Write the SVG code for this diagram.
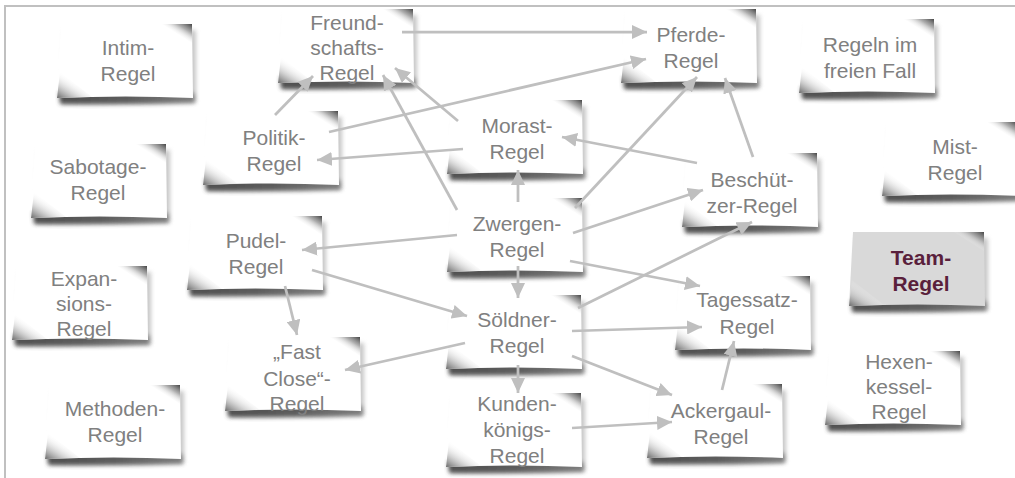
<svg xmlns="http://www.w3.org/2000/svg" xmlns:xlink="http://www.w3.org/1999/xlink" width="1015" height="478" viewBox="0 0 1015 478">
  <style>
    .frame { fill: none; stroke: #c0c0c0; stroke-width: 2; }
    .label { font-family: "Liberation Sans", Arial, sans-serif; font-size: 21px; fill: #808080; text-anchor: middle; }
    .label-strong { font-family: "Liberation Sans", Arial, sans-serif; font-size: 21px; font-weight: bold; fill: #5a1f3c; text-anchor: middle; }
    .link { fill: none; stroke: #bfbfbf; stroke-width: 2.75; marker-end: url(#arrow); }
  </style>
  <defs>
    <filter id="soft" x="-20%" y="-30%" width="140%" height="160%">
      <feGaussianBlur stdDeviation="2.2"/>
    </filter>
    <linearGradient id="shadowGrad" x1="0" y1="0" x2="1" y2="0">
      <stop offset="0" stop-color="#3a3a3a"/>
      <stop offset="0.5" stop-color="#4a4a4a"/>
      <stop offset="1" stop-color="#707070"/>
    </linearGradient>
    <linearGradient id="foldTop" x1="1" y1="0" x2="0.45" y2="0.55">
      <stop offset="0" stop-color="#444"/>
      <stop offset="0.45" stop-color="#9a9a9a" stop-opacity="0.8"/>
      <stop offset="1" stop-color="#fff" stop-opacity="0"/>
    </linearGradient>
    <linearGradient id="foldBottom" x1="0" y1="1" x2="0.55" y2="0.35">
      <stop offset="0" stop-color="#6a6a6a"/>
      <stop offset="0.4" stop-color="#b8b8b8" stop-opacity="0.8"/>
      <stop offset="1" stop-color="#fff" stop-opacity="0"/>
    </linearGradient>
    <!-- sticky note: shadow, paper (fill set on the use), curled corners -->
    <g id="note">
      <path d="M4,6 L136,6 L136,78 L2,80 Z" fill="#9a9a9a" opacity="0.55" filter="url(#soft)"/>
      <path d="M-1,68 L134,69 L135,79 Q70,81 0,80 Z" fill="url(#shadowGrad)" opacity="0.85" filter="url(#soft)"/>
      <path d="M1,0 H132 L133,74 Q66,71 -3,74 L1,0 Z"/>
      <polygon points="102,0 132,0 132,19" fill="url(#foldTop)"/>
      <polygon points="-3,74 0,48 32,73" fill="url(#foldBottom)"/>
    </g>
    <marker id="arrow" markerUnits="userSpaceOnUse" markerWidth="15" markerHeight="14" refX="15" refY="7" orient="auto">
      <path d="M0,0 L15,7 L0,14 Z" fill="#bfbfbf"/>
    </marker>
  </defs>

  <rect width="1015" height="478" fill="#fff"/>
  <path class="frame" d="M5,478 V6 H1015"/>

  <g id="intim-regel">
    <use xlink:href="#note" href="#note" x="60" y="24" fill="#fff"/>
    <text class="label" x="128" y="55">Intim-</text>
    <text class="label" x="128" y="81">Regel</text>
  </g>
  <g id="freundschafts-regel">
    <use xlink:href="#note" href="#note" x="281" y="9" fill="#fff"/>
    <text class="label" x="347" y="30">Freund-</text>
    <text class="label" x="347" y="55">schafts-</text>
    <text class="label" x="347" y="80">Regel</text>
  </g>
  <g id="pferde-regel">
    <use xlink:href="#note" href="#note" x="624" y="9" fill="#fff"/>
    <text class="label" x="691" y="42">Pferde-</text>
    <text class="label" x="691" y="68">Regel</text>
  </g>
  <g id="regeln-im-freien-fall">
    <use xlink:href="#note" href="#note" x="802" y="19" fill="#fff"/>
    <text class="label" x="870" y="52">Regeln im</text>
    <text class="label" x="870" y="78">freien Fall</text>
  </g>
  <g id="politik-regel">
    <use xlink:href="#note" href="#note" x="206" y="111" fill="#fff"/>
    <text class="label" x="274" y="145">Politik-</text>
    <text class="label" x="274" y="171">Regel</text>
  </g>
  <g id="morast-regel">
    <use xlink:href="#note" href="#note" x="450" y="100" fill="#fff"/>
    <text class="label" x="517" y="133">Morast-</text>
    <text class="label" x="517" y="159">Regel</text>
  </g>
  <g id="beschuetzer-regel">
    <use xlink:href="#note" href="#note" x="685" y="153" fill="#fff"/>
    <text class="label" x="752" y="187">Beschüt-</text>
    <text class="label" x="752" y="213">zer-Regel</text>
  </g>
  <g id="mist-regel">
    <use xlink:href="#note" href="#note" x="885" y="122" fill="#fff"/>
    <text class="label" x="955" y="154">Mist-</text>
    <text class="label" x="955" y="180">Regel</text>
  </g>
  <g id="sabotage-regel">
    <use xlink:href="#note" href="#note" x="34" y="144" fill="#fff"/>
    <text class="label" x="98" y="174">Sabotage-</text>
    <text class="label" x="98" y="200">Regel</text>
  </g>
  <g id="zwergen-regel">
    <use xlink:href="#note" href="#note" x="450" y="198" fill="#fff"/>
    <text class="label" x="517" y="231">Zwergen-</text>
    <text class="label" x="517" y="257">Regel</text>
  </g>
  <g id="pudel-regel">
    <use xlink:href="#note" href="#note" x="190" y="216" fill="#fff"/>
    <text class="label" x="256" y="248">Pudel-</text>
    <text class="label" x="256" y="274">Regel</text>
  </g>
  <g id="team-regel">
    <use xlink:href="#note" href="#note" x="852" y="232" fill="#d9d9d9"/>
    <text class="label-strong" x="921" y="265">Team-</text>
    <text class="label-strong" x="921" y="291">Regel</text>
  </g>
  <g id="expansions-regel">
    <use xlink:href="#note" href="#note" x="15" y="266" fill="#fff"/>
    <text class="label" x="84" y="286">Expan-</text>
    <text class="label" x="84" y="311">sions-</text>
    <text class="label" x="84" y="336">Regel</text>
  </g>
  <g id="tagessatz-regel">
    <use xlink:href="#note" href="#note" x="678" y="276" fill="#fff"/>
    <text class="label" x="747" y="307">Tagessatz-</text>
    <text class="label" x="747" y="334">Regel</text>
  </g>
  <g id="soeldner-regel">
    <use xlink:href="#note" href="#note" x="449" y="295" fill="#fff"/>
    <text class="label" x="517" y="327">Söldner-</text>
    <text class="label" x="517" y="353">Regel</text>
  </g>
  <g id="fast-close-regel">
    <use xlink:href="#note" href="#note" x="228" y="337" fill="#fff"/>
    <text class="label" x="297" y="359">„Fast</text>
    <text class="label" x="297" y="386">Close“-</text>
    <text class="label" x="297" y="411">Regel</text>
  </g>
  <g id="hexenkessel-regel">
    <use xlink:href="#note" href="#note" x="828" y="351" fill="#fff"/>
    <text class="label" x="899" y="369">Hexen-</text>
    <text class="label" x="899" y="394">kessel-</text>
    <text class="label" x="899" y="419">Regel</text>
  </g>
  <g id="methoden-regel">
    <use xlink:href="#note" href="#note" x="48" y="385" fill="#fff"/>
    <text class="label" x="115" y="416">Methoden-</text>
    <text class="label" x="115" y="442">Regel</text>
  </g>
  <g id="kundenkoenigs-regel">
    <use xlink:href="#note" href="#note" x="449" y="393" fill="#fff"/>
    <text class="label" x="517" y="411">Kunden-</text>
    <text class="label" x="517" y="437">königs-</text>
    <text class="label" x="517" y="463">Regel</text>
  </g>
  <g id="ackergaul-regel">
    <use xlink:href="#note" href="#note" x="650" y="384" fill="#fff"/>
    <text class="label" x="721" y="418">Ackergaul-</text>
    <text class="label" x="721" y="444">Regel</text>
  </g>

  <g id="connectors">
    <line class="link" x1="402" y1="32" x2="647" y2="32"/>
    <line class="link" x1="329" y1="132" x2="646" y2="59"/>
    <line class="link" x1="275" y1="115" x2="313" y2="76"/>
    <line class="link" x1="458" y1="121" x2="395" y2="68"/>
    <line class="link" x1="463" y1="149" x2="317" y2="160"/>
    <line class="link" x1="457" y1="210" x2="383" y2="75"/>
    <line class="link" x1="518" y1="202" x2="518" y2="170"/>
    <line class="link" x1="575" y1="208" x2="697" y2="77"/>
    <line class="link" x1="753" y1="157" x2="725" y2="78"/>
    <line class="link" x1="697" y1="163" x2="562" y2="137"/>
    <line class="link" x1="573" y1="233" x2="703" y2="190"/>
    <line class="link" x1="457" y1="235" x2="302" y2="250"/>
    <line class="link" x1="518" y1="266" x2="518" y2="298"/>
    <line class="link" x1="570" y1="261" x2="700" y2="286"/>
    <line class="link" x1="578" y1="308" x2="752" y2="222"/>
    <line class="link" x1="312" y1="270" x2="467" y2="316"/>
    <line class="link" x1="285" y1="286" x2="297" y2="335"/>
    <line class="link" x1="465" y1="343" x2="345" y2="370"/>
    <line class="link" x1="572" y1="331" x2="702" y2="327"/>
    <line class="link" x1="518" y1="365" x2="518" y2="393"/>
    <line class="link" x1="572" y1="356" x2="672" y2="395"/>
    <line class="link" x1="572" y1="428" x2="672" y2="422"/>
    <line class="link" x1="722" y1="390" x2="734" y2="341"/>
  </g>
</svg>
